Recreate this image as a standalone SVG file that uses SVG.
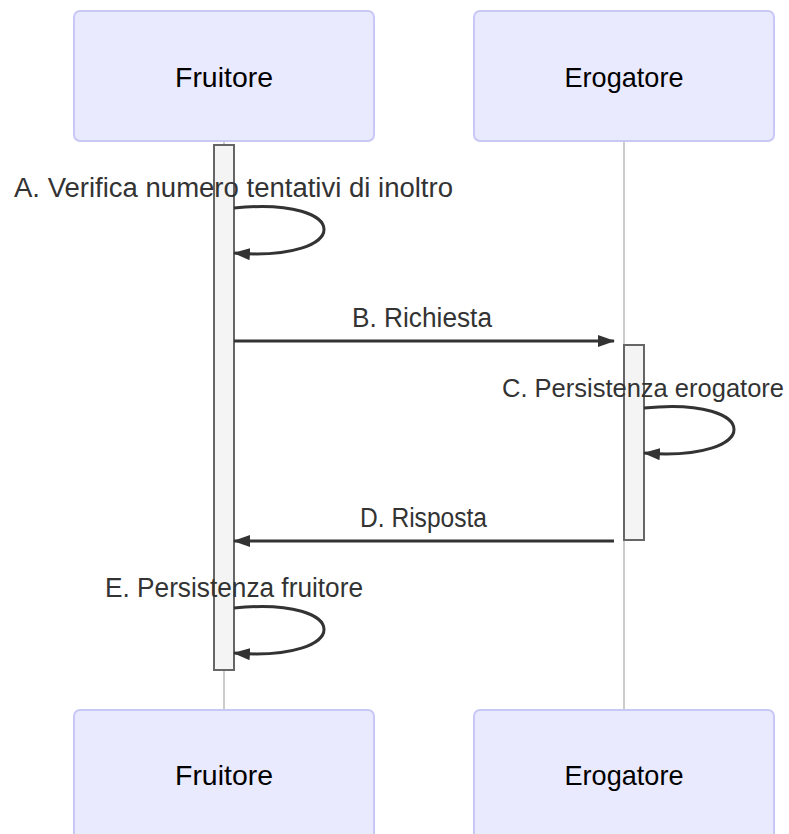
<svg xmlns="http://www.w3.org/2000/svg" width="789" height="834" viewBox="0 0 789 834">
<style>
.actor{fill:#eaeaff;stroke:#c8c8f6;stroke-width:2}
.atext{font-family:"Liberation Sans",Arial,sans-serif;font-size:28px;fill:#000;text-anchor:middle}
.life{stroke:#999;stroke-width:1}
.act{fill:#f4f4f4;stroke:#666;stroke-width:2}
.msg{fill:none;stroke:#333;stroke-width:3;marker-end:url(#arr)}
.mtext{font-family:"Liberation Sans",Arial,sans-serif;font-size:27px;fill:#333;text-anchor:middle}
</style>
<defs>
<marker id="arr" markerUnits="userSpaceOnUse" markerWidth="17" markerHeight="12" refX="16" refY="6" orient="auto">
<path d="M0,0 L17,6 L0,12 z" fill="#333"/>
</marker>
</defs>
<rect width="789" height="834" fill="#fff"/>
<g id="lifelines">
<line class="life" x1="224" y1="141" x2="224" y2="710"/>
<line class="life" x1="624" y1="141" x2="624" y2="710"/>
</g>
<g id="fruitore-top"><rect class="actor" x="74" y="11" width="300" height="130" rx="6"/><text class="atext" x="224" y="87" textLength="98" lengthAdjust="spacingAndGlyphs">Fruitore</text></g>
<g id="erogatore-top"><rect class="actor" x="474" y="11" width="300" height="130" rx="6"/><text class="atext" x="624" y="87" textLength="119" lengthAdjust="spacingAndGlyphs">Erogatore</text></g>
<g id="fruitore-bottom"><rect class="actor" x="74" y="710" width="300" height="130" rx="6"/><text class="atext" x="224" y="785" textLength="98" lengthAdjust="spacingAndGlyphs">Fruitore</text></g>
<g id="erogatore-bottom"><rect class="actor" x="474" y="710" width="300" height="130" rx="6"/><text class="atext" x="624" y="785" textLength="119" lengthAdjust="spacingAndGlyphs">Erogatore</text></g>
<g id="activation-fruitore"><rect class="act" x="214" y="145" width="20" height="525"/></g>
<g id="activation-erogatore"><rect class="act" x="624" y="345" width="20" height="195"/></g>
<g id="connectors">
<path class="msg" d="M234,208 C354,196 354,262 234,253"/>
<line class="msg" x1="234" y1="341" x2="614" y2="341"/>
<path class="msg" d="M644,408 C764,396 764,462 644,453"/>
<line class="msg" x1="614" y1="541" x2="234" y2="541"/>
<path class="msg" d="M234,608 C354,596 354,662 234,653"/>
</g>
<g id="labels">
<text class="mtext" x="233.5" y="197" textLength="439" lengthAdjust="spacingAndGlyphs">A. Verifica numero tentativi di inoltro</text>
<text class="mtext" x="422" y="327" textLength="140" lengthAdjust="spacingAndGlyphs">B. Richiesta</text>
<text class="mtext" x="643" y="397" style="font-size:25.5px" textLength="282" lengthAdjust="spacingAndGlyphs">C. Persistenza erogatore</text>
<text class="mtext" x="423.5" y="527" textLength="127" lengthAdjust="spacingAndGlyphs">D. Risposta</text>
<text class="mtext" x="234" y="597" textLength="258" lengthAdjust="spacingAndGlyphs">E. Persistenza fruitore</text>
</g>
</svg>
